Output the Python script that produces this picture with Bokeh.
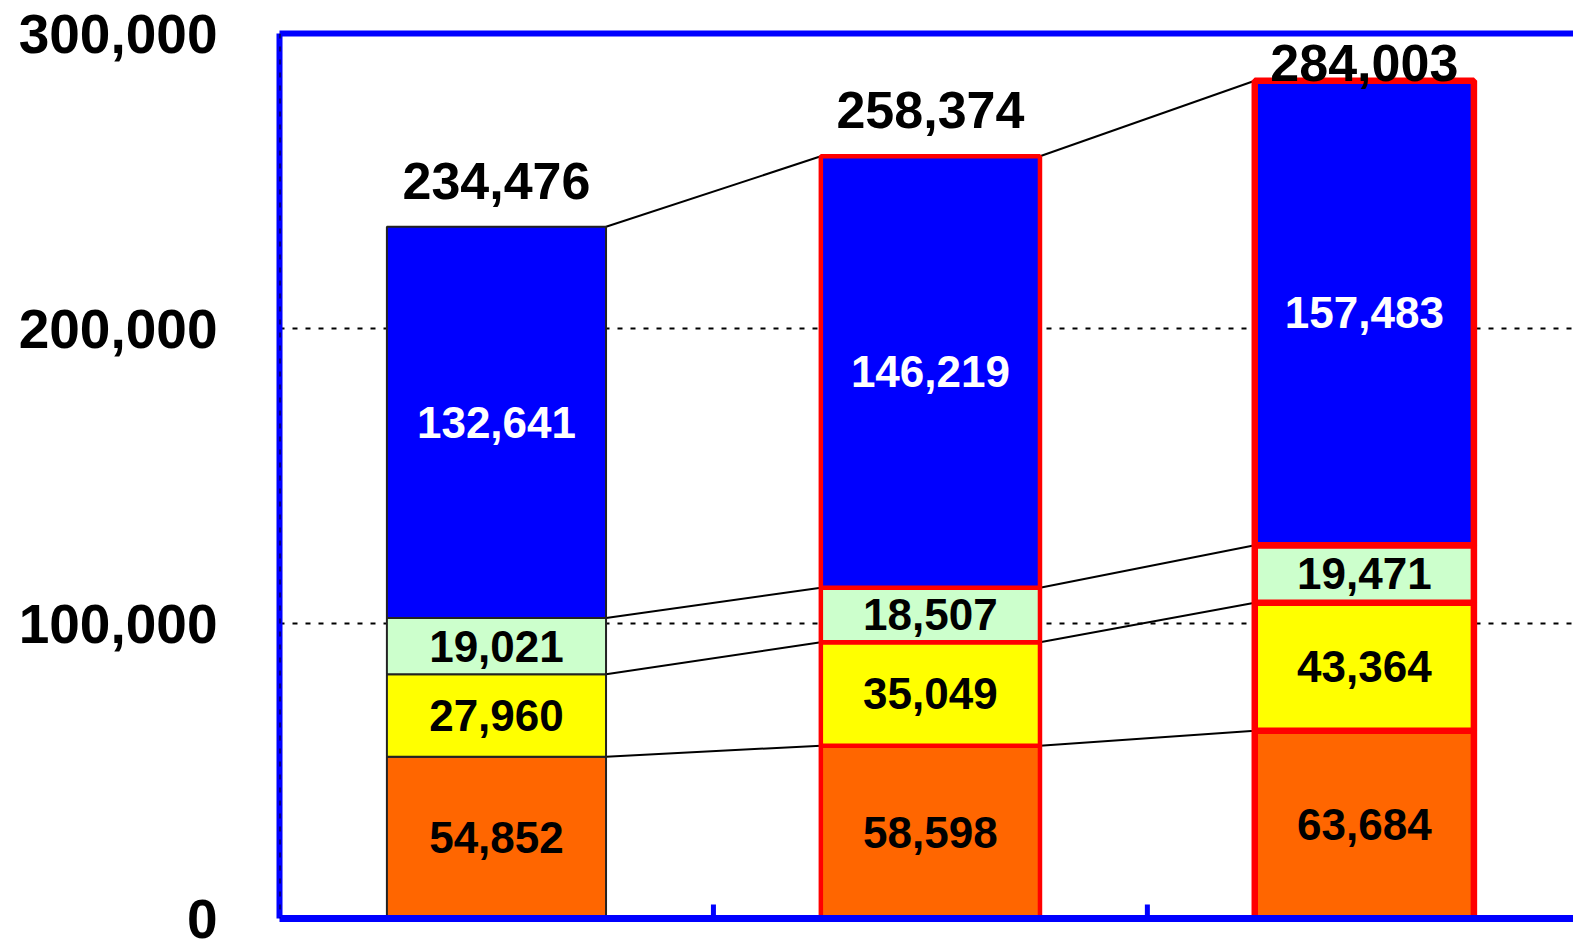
import numpy as np
from bokeh.plotting import figure
from bokeh.models import (ColumnDataSource, Range1d, LinearAxis, FixedTicker,
                          NumeralTickFormatter, Span)
from bokeh.core.properties import value
from bokeh.embed import file_html
from bokeh.resources import INLINE

# ---- data ----
categories = ["A", "B", "C"]
orange_vals = [54852, 58598, 63684]
yellow_vals = [27960, 35049, 43364]
green_vals = [19021, 18507, 19471]
blue_vals = [132641, 146219, 157483]
totals = [234476, 258374, 284003]
y_ticks = [0, 100000, 200000, 300000]

series = [orange_vals, yellow_vals, green_vals, blue_vals]
fills = ["#FF6600", "#FFFF00", "#CCFFCC", "#0000FF"]
label_colors = ["black", "black", "black", "white"]
bar_line_colors = ["#222222", "#FF0000", "#FF0000"]
bar_line_widths = [2, 4.5, 6.5]

FONT = "Liberation Sans"
BW = 0.505

p = figure(width=1573, height=940, output_backend="svg", toolbar_location=None,
           x_range=Range1d(0, 2.982), y_range=Range1d(0, 300000),
           min_border_left=279, min_border_top=33, min_border_bottom=22,
           min_border_right=0, outline_line_color=None)
p.xaxis.visible = False
p.yaxis.visible = False
p.xgrid.visible = False

xs = np.arange(len(categories)) + 0.5
cum = np.zeros(len(categories))
levels = []
rects = dict(x=[], bottom=[], top=[], fill=[], lc=[], lw=[])
labels = dict(x=[], y=[], text=[], color=[])
for s, fc, tc in zip(series, fills, label_colors):
    vals = np.array(s, dtype=float)
    for i in range(len(categories)):
        rects["x"].append(xs[i])
        rects["bottom"].append(cum[i])
        rects["top"].append(cum[i] + vals[i])
        rects["fill"].append(fc)
        rects["lc"].append(bar_line_colors[i])
        rects["lw"].append(bar_line_widths[i])
        labels["x"].append(xs[i])
        labels["y"].append(cum[i] + vals[i] / 2)
        labels["text"].append(f"{int(vals[i]):,}")
        labels["color"].append(tc)
    cum = cum + vals
    levels.append(cum.copy())

# connector lines
seg = dict(x0=[], y0=[], x1=[], y1=[])
for lv in levels:
    for i in range(len(categories) - 1):
        seg["x0"].append(xs[i] + BW / 2)
        seg["x1"].append(xs[i + 1] - BW / 2)
        seg["y0"].append(lv[i])
        seg["y1"].append(lv[i + 1])
p.segment(x0="x0", y0="y0", x1="x1", y1="y1", source=ColumnDataSource(seg),
          line_color="black", line_width=2)

p.vbar(x="x", bottom="bottom", top="top", width=BW, source=ColumnDataSource(rects),
       fill_color="fill", line_color="lc", line_width="lw")

p.text(x="x", y="y", text="text", text_color="color", source=ColumnDataSource(labels),
       text_align="center", text_baseline="middle", text_font=value(FONT),
       text_font_style="bold", text_font_size="44px")

tot = dict(x=list(xs), y=[min(t + 15600, 290000) for t in totals],
           text=[f"{t:,}" for t in totals])
p.text(x="x", y="y", text="text", source=ColumnDataSource(tot), text_color="black",
       text_align="center", text_baseline="middle", text_font=value(FONT),
       text_font_style="bold", text_font_size="52px")

# category boundary tick marks on the bottom axis
bounds = list(xs[:-1] + 0.5)
p.rect(x=bounds, y=[0] * len(bounds), width=5, height=28, width_units="screen",
       height_units="screen", fill_color="#0000FF", line_color=None)

# grid
p.ygrid.ticker = FixedTicker(ticks=y_ticks[1:])
p.ygrid.grid_line_color = "black"
p.ygrid.grid_line_width = 2
p.ygrid.grid_line_dash = "5 8"

p.add_layout(Span(location=0, dimension="height", line_color="black",
                  line_width=2, line_dash="5 8", level="overlay"))

# left axis
ya = LinearAxis(ticker=FixedTicker(ticks=y_ticks), formatter=NumeralTickFormatter(format="0,0"))
ya.axis_line_color = "#0000FF"
ya.axis_line_width = 6
ya.major_tick_out = 0
ya.major_tick_in = 0
ya.minor_tick_line_color = None
ya.major_label_standoff = 62
ya.major_label_text_font = FONT
ya.major_label_text_font_style = "bold"
ya.major_label_text_font_size = "55px"
ya.major_label_text_color = "black"
p.add_layout(ya, "left")

# top frame line
ta = LinearAxis(ticker=FixedTicker(ticks=[]))
ta.axis_line_color = "#0000FF"
ta.axis_line_width = 6
ta.major_tick_out = 0
ta.major_tick_in = 0
ta.minor_tick_line_color = None
p.add_layout(ta, "above")

# bottom frame line
ba = LinearAxis(ticker=FixedTicker(ticks=[]))
ba.axis_line_color = "#0000FF"
ba.axis_line_width = 7
ba.major_tick_out = 0
ba.major_tick_in = 0
ba.minor_tick_line_color = None
p.add_layout(ba, "below")

open("out.html", "w").write(file_html(p, INLINE))
